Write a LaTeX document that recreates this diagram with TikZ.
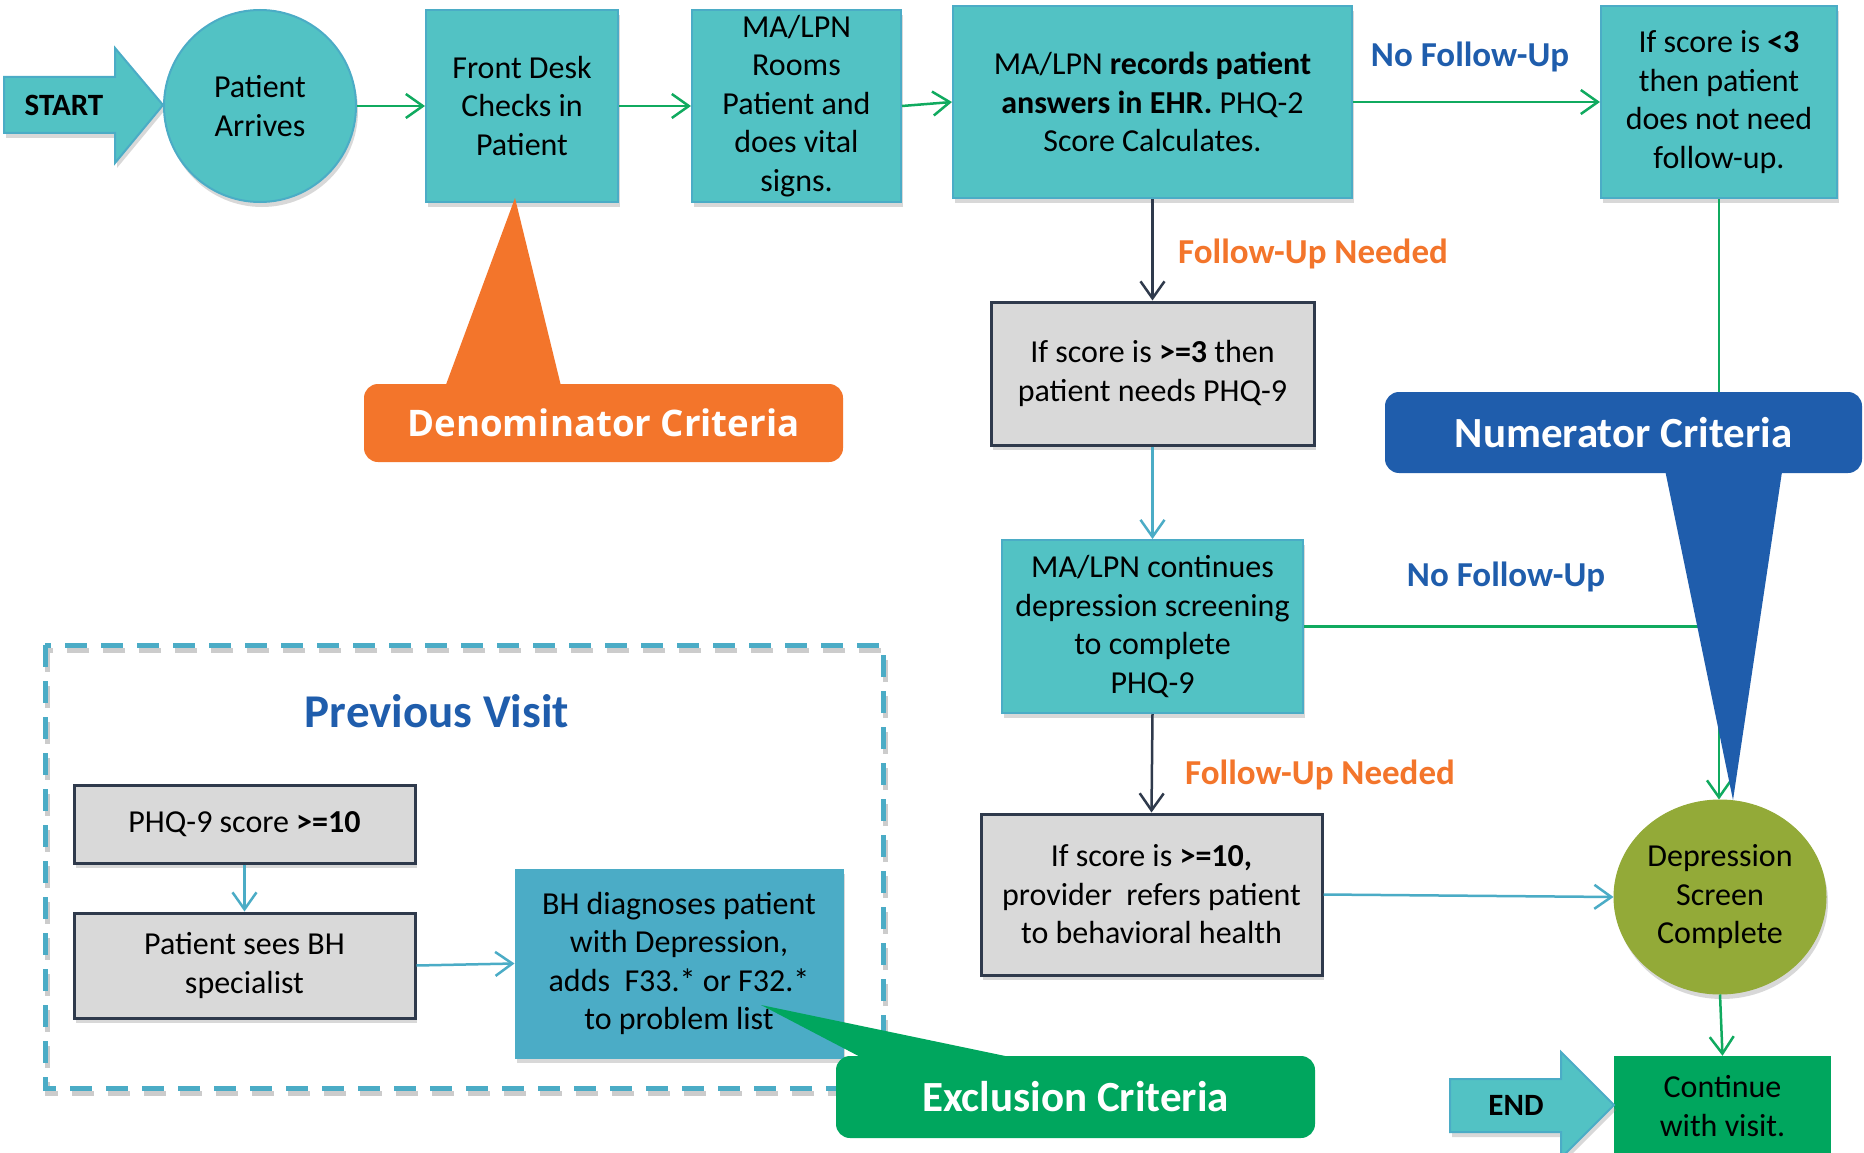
\documentclass[tikz,border=0pt]{standalone}
\usepackage{fontspec}
\setmainfont{Carlito}
\newfontfamily\osans{Open Sans}
\usetikzlibrary{arrows.meta,shadows,shapes.geometric}
\definecolor{cTeal}{RGB}{82,194,196}
\definecolor{cTealLine}{RGB}{75,172,198}
\definecolor{cBH}{RGB}{75,172,198}
\definecolor{cGray}{RGB}{217,217,217}
\definecolor{cDark}{RGB}{47,58,76}
\definecolor{cGreen}{RGB}{0,166,94}
\definecolor{cLineGreen}{RGB}{16,170,95}
\definecolor{cOrange}{RGB}{243,117,43}
\definecolor{cBlue}{RGB}{31,93,172}
\definecolor{cOlive}{RGB}{147,170,56}
\definecolor{cLB}{RGB}{75,172,198}
\newcommand\boxfont{\fontsize{32}{38.5}\selectfont}
\newcommand\lblfont{\fontsize{35}{40}\selectfont\bfseries}
\newcommand\callfont{\fontsize{43}{48}\selectfont\bfseries}
\tikzset{
  shd/.style={drop shadow={opacity=0.3,shadow xshift=2pt,shadow yshift=-5pt}},
  tbox/.style={draw=cTealLine, line width=2pt, fill=cTeal, inner sep=0pt, align=center, font=\boxfont, shd},
  gbox/.style={draw=cDark, line width=3pt, fill=cGray, inner sep=0pt, align=center, font=\boxfont, shd},
  bhbox/.style={draw=cBH, line width=1pt, fill=cBH, inner sep=0pt, align=center, font=\boxfont, shd},
  conn/.style={line width=2.5pt, -{Straight Barb[length=17pt,width=24pt,line width=2.5pt]}},
  gconn/.style={conn, draw=cLineGreen},
  dconn/.style={conn, draw=cDark},
  bconn/.style={conn, draw=cLB},
  lbl/.style={font=\lblfont, inner sep=0pt},
  callout/.style={rounded corners=14pt, inner sep=0pt, text=white, font=\callfont},
  dashbox/.style={line width=5pt, dash pattern=on 22pt off 14pt},
}
\begin{document}
\begin{tikzpicture}[x=1pt,y=-1pt]
\useasboundingbox (0,0) rectangle (1864,1153);
\clip (0,0) rectangle (1864,1153);
\fill[white] (0,0) rectangle (1864,1153);

% START arrow
\filldraw[fill=cTeal, draw=cTealLine, line width=2pt, shd]
  (4,77) -- (115,77) -- (115,48) -- (163,105) -- (115,163) -- (115,133) -- (4,133) -- cycle;
\node[font=\fontsize{31}{36}\selectfont\bfseries] (start) at (64,105) {START};

% top row
\node[tbox, ellipse, minimum width=192pt, minimum height=192pt] (pa) at (260,106) {Patient\\Arrives};
\node[tbox, minimum width=192pt, minimum height=192pt] (fd) at (522,106) {Front Desk\\Checks in\\Patient};
\node[tbox, minimum width=209pt, minimum height=192pt] (ma) at (796.5,106) {MA/LPN\\Rooms\\Patient and\\does vital\\signs.};
\node[tbox, minimum width=399pt, minimum height=192pt] (rec) at (1152.5,102) {MA/LPN \textbf{records patient}\\\textbf{answers in EHR.} PHQ-2\\Score Calculates.};
\node[tbox, minimum width=236pt, minimum height=192pt] (lt3) at (1719,102) {If score is \textbf{<3}\\then patient\\does not need\\follow-up.};

% middle column
\node[gbox, minimum width=323pt, minimum height=143pt] (ge3) at (1152.5,373.5) {If score is \textbf{>=3} then\\patient needs PHQ-9};
\node[tbox, minimum width=301pt, minimum height=173pt] (cont) at (1152.5,626.5) {MA/LPN continues\\depression screening\\to complete\\PHQ-9};
\node[gbox, minimum width=341pt, minimum height=161pt] (ge10) at (1151.5,894.5) {If score is \textbf{>=10,}\\provider\ \ refers patient\\to behavioral health};

% right column
\node[ellipse, fill=cOlive, draw=cOlive, line width=1pt, inner sep=0pt, align=center, font=\boxfont, shd, minimum width=212pt, minimum height=194pt] (dsc) at (1720,897) {Depression\\Screen\\Complete};
\node[fill=cGreen, inner sep=0pt, align=center, font=\boxfont, minimum width=217pt, minimum height=100pt] (cv) at (1722.5,1106) {Continue\\with visit.};

% END arrow
\filldraw[fill=cTeal, draw=cTealLine, line width=2pt, shd]
  (1450,1079) -- (1561,1079) -- (1561,1052) -- (1614,1105) -- (1561,1158) -- (1561,1132) -- (1450,1132) -- cycle;
\node[font=\fontsize{31}{36}\selectfont\bfseries] (endn) at (1516,1105) {END};

% previous visit
\draw[dashbox, black, opacity=0.2] (47,650) rectangle (885,1093);
\draw[dashbox, cLB] (45,645) rectangle (883,1088);
\node[font=\fontsize{47}{52}\selectfont\bfseries, text=cBlue, inner sep=0pt] (pv) at (437,711) {Previous Visit};
\node[gbox, minimum width=341pt, minimum height=78pt] (phq) at (244.5,824) {PHQ-9 score \textbf{>=10}};
\node[gbox, minimum width=341pt, minimum height=105pt] (bhs) at (244.5,965.5) {Patient sees BH\\specialist};
\node[bhbox, minimum width=328pt, minimum height=189pt] (bhd) at (679,963.5) {BH diagnoses patient\\with Depression,\\adds\ \ F33.* or F32.*\\to problem list};

% connectors
\draw[gconn] (pa.east) -- (fd.west);
\draw[gconn] (fd.east) -- (ma.west);
\draw[gconn] (ma.east) -- (rec.west);
\draw[gconn] (rec.east) -- (lt3.west);
\draw[dconn] (rec.south) -- (ge3.north);
\draw[bconn] (ge3.south) -- (cont.north);
\draw[dconn] (cont.south) -- (ge10.north);
\draw[bconn] (ge10.east) -- (dsc.west);
\draw[gconn] (lt3.south) -- (lt3.south |- dsc.north);
\draw[cLineGreen, line width=2.5pt] (cont.east) -- (cont.east -| lt3.south);
\draw[gconn] (dsc.south) -- (cv.north);
\draw[bconn] (phq.south) -- (bhs.north);
\draw[bconn] (bhs.east) -- (bhd.west);

% labels
\node[lbl, text=cBlue] (nf1) at (1470,57) {No Follow-Up};
\node[lbl, text=cOrange] (fu1) at (1313,254) {Follow-Up Needed};
\node[lbl, text=cBlue] (nf2) at (1506,577) {No Follow-Up};
\node[lbl, text=cOrange] (fu2) at (1320,775) {Follow-Up Needed};

% callouts
\fill[cOrange] (515,198) -- (444,390) -- (562,390) -- cycle;
\node[callout, fill=cOrange, minimum width=479pt, minimum height=78pt, font=\fontsize{36.6}{42}\selectfont\osans\bfseries] (denc) at (603.5,423) {Denominator Criteria};

\fill[cBlue] (1733,800) -- (1664,465) -- (1783,465) -- cycle;
\node[callout, fill=cBlue, minimum width=477pt, minimum height=81pt] (numc) at (1623.5,432.5) {Numerator Criteria};

\fill[cGreen] (761,1005) -- (870,1062) -- (1034,1062) -- cycle;
\node[callout, fill=cGreen, minimum width=479pt, minimum height=82pt] (exc) at (1075.5,1097) {Exclusion Criteria};
\end{tikzpicture}
\end{document}
